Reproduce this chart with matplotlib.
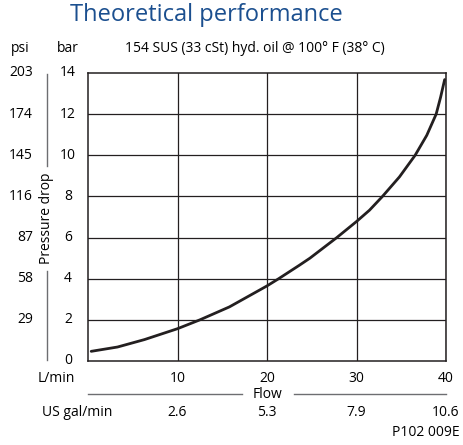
import matplotlib.pyplot as plt
from matplotlib import transforms
from matplotlib.lines import Line2D

# pressure drop vs flow, 154 SUS oil at 100 F
flow_lpm = [0.36, 3.3, 6.3, 10.0, 12.5, 15.8, 20.0, 21.3, 23.6, 24.8, 27.8,
            30.0, 31.45, 32.9, 34.8, 36.55, 37.85, 38.9, 39.4, 39.85]
drop_bar = [0.47, 0.68, 1.04, 1.57, 2.0, 2.63, 3.65, 4.0, 4.65, 5.0, 6.0,
            6.78, 7.33, 8.0, 8.95, 10.0, 10.97, 12.0, 12.83, 13.68]

bar_ticks = [0, 2, 4, 6, 8, 10, 12, 14]
psi_labels = ['', '29', '58', '87', '116', '145', '174', '203']
flow_ticks = [10, 20, 30, 40]
gal_labels = ['2.6', '5.3', '7.9', '10.6']

plt.rcParams['font.family'] = ['Open Sans', 'DejaVu Sans']

W, H = 463, 445
fig = plt.figure(figsize=(W / 100, H / 100), dpi=100)
L, R, T, B = 88, 446, 73, 361
ax = fig.add_axes([L / W, 1 - B / H, (R - L) / W, (B - T) / H])

ax.plot(flow_lpm, drop_bar, color='#231f20', lw=2.0,
        solid_capstyle='round', solid_joinstyle='round')
ax.set_xlim(0, 40)
ax.set_ylim(0, 14)
ax.set_xticks(flow_ticks)
ax.set_yticks(bar_ticks[1:-1])
ax.grid(True, color='#231f20', lw=0.9)
ax.tick_params(length=0, labelleft=False, labelbottom=False)
for s in ax.spines.values():
    s.set_color('#231f20')
    s.set_linewidth(1.1)


def fx(px):
    return px / W


def fy(py):
    return 1 - py / H


ty = transforms.blended_transform_factory(fig.transFigure, ax.transData)
tx = transforms.blended_transform_factory(ax.transData, fig.transFigure)
fs = 10

fig.text(fx(206), fy(15), 'Theoretical performance', color='#1b4f8f',
         fontsize=17, ha='center', va='center')
fig.text(fx(20), fy(48), 'psi', fontsize=fs, ha='center', va='center')
fig.text(fx(68), fy(48), 'bar', fontsize=fs, ha='center', va='center')
fig.text(fx(255), fy(48), '154 SUS (33 cSt) hyd. oil @ 100° F (38° C)',
         fontsize=fs, ha='center', va='center')

for b, p in zip(bar_ticks, psi_labels):
    ax.text(fx(68), b, str(b), transform=ty, fontsize=fs, ha='center', va='center')
    ax.text(fx(33), b, p, transform=ty, fontsize=fs, ha='right', va='center')

# pressure drop axis title with its side lines
fig.text(fx(47), fy(218), 'Pressure drop', rotation=90, fontsize=fs,
         ha='center', va='center')
fig.add_artist(Line2D([fx(47), fx(47)], [fy(74), fy(166)], color='#6d6e71', lw=1.0))
fig.add_artist(Line2D([fx(47), fx(47)], [fy(271), fy(360)], color='#6d6e71', lw=1.0))

fig.text(fx(56), fy(378), 'L/min', fontsize=fs, ha='center', va='center')
fig.text(fx(77), fy(412), 'US gal/min', fontsize=fs, ha='center', va='center')
for f, g in zip(flow_ticks, gal_labels):
    ax.text(f, fy(378), str(f), transform=tx, fontsize=fs, ha='center', va='center')
    ax.text(f, fy(412), g, transform=tx, fontsize=fs, ha='center', va='center')

fig.text(fx(267), fy(395), 'Flow', fontsize=fs, ha='center', va='center')
fig.add_artist(Line2D([fx(88), fx(242)], [fy(394), fy(394)], color='#6d6e71', lw=1.0))
fig.add_artist(Line2D([fx(294), fx(446)], [fy(394), fy(394)], color='#6d6e71', lw=1.0))

fig.text(fx(460), fy(433), 'P102 009E', fontsize=fs, ha='right', va='center')

fig.savefig('out.png', dpi=100)
